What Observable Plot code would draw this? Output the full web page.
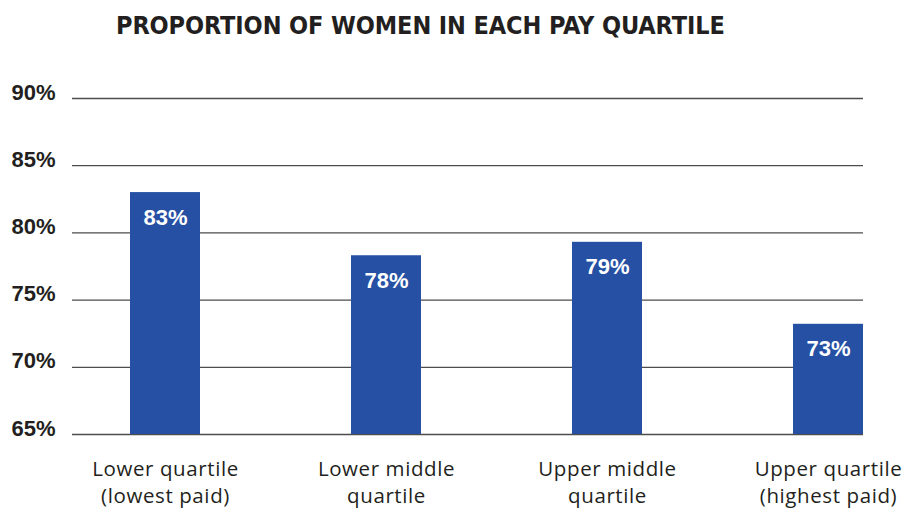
<!DOCTYPE html>
<html>
<head>
<meta charset="utf-8">
<script src="https://cdn.jsdelivr.net/npm/d3@7"></script>
<script src="https://cdn.jsdelivr.net/npm/@observablehq/plot@0.6"></script>
<style>
  html, body { margin: 0; padding: 0; background: #fff; }
  #title {
    height: 50px; position: relative;
    font-family: "Liberation Sans Narrow", "DejaVu Sans Condensed", sans-serif;
    font-weight: bold; font-size: 25px; color: #231f20;
  }
  #title span { position: absolute; left: 116px; top: 11px; white-space: nowrap; letter-spacing: -0.1px; }
  #chart svg { display: block; }
  #chart svg g[aria-label="x-axis tick label"] text { letter-spacing: 0.6px; }
</style>
</head>
<body>
<div id="title"><span>PROPORTION OF WOMEN IN EACH PAY QUARTILE</span></div>
<div id="chart"></div>
<script>
const categories = ["Lower quartile\n(lowest paid)", "Lower middle\nquartile", "Upper middle\nquartile", "Upper quartile\n(highest paid)"];
const values = [83.0, 78.3, 79.3, 73.2];
const valueLabels = ["83%", "78%", "79%", "73%"];
const yTicks = [65, 70, 75, 80, 85, 90];
const baseline = 65;

const data = categories.map((c, i) => ({cat: c, value: values[i], label: valueLabels[i]}));

const chart = Plot.plot({
  width: 906,
  height: 461,
  marginTop: 48,
  marginBottom: 77,
  marginLeft: 72,
  marginRight: 43,
  style: {fontFamily: "'Liberation Sans', Arial, sans-serif", background: "#fff"},
  x: {domain: categories, paddingInner: 0.6833, paddingOuter: 0.1312, align: 1, label: null},
  y: {domain: [65, 90], label: null},
  marks: [
    Plot.gridY(yTicks, {stroke: "#4d4d4d", strokeOpacity: 1, strokeWidth: 1.3}),
    Plot.barY(data, {x: "cat", y1: baseline, y2: "value", fill: "#2550a3"}),
    Plot.text(data, {x: "cat", y: "value", text: "label", dy: 25, fill: "white", fontWeight: "bold", fontSize: 22}),
    Plot.axisY(yTicks, {tickSize: 0, tickPadding: 17, dy: -6, tickFormat: d => d + "%", fontSize: 22, fontWeight: "bold", fill: "#231f20"}),
    Plot.axisX({tickSize: 0, tickPadding: 23, fontSize: 20.5, lineHeight: 1.3, fill: "#231f20", fontFamily: "'Open Sans', sans-serif"})
  ]
});
document.getElementById("chart").appendChild(chart);
</script>
</body>
</html>
